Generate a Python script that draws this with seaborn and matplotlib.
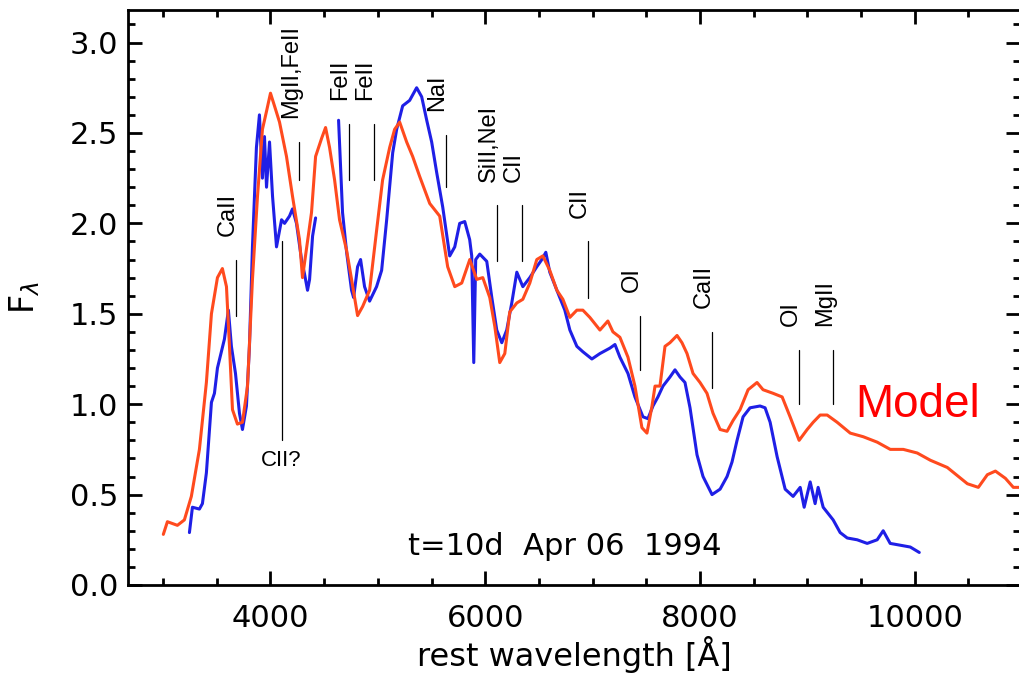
import matplotlib
matplotlib.use("Agg")
import matplotlib.pyplot as plt
import seaborn as sns
import pandas as pd
from matplotlib.ticker import MultipleLocator, FormatStrFormatter

# model spectrum (red/orange)
model_wl = [3002, 3040, 3133, 3198, 3263, 3338, 3403, 3450, 3506, 3552,
            3590, 3618, 3646, 3692, 3739, 3786, 3832, 3879, 3925, 3963,
            4000, 4037, 4084, 4149, 4205, 4270, 4298, 4382, 4420, 4476,
            4513, 4550, 4597, 4643, 4709, 4755, 4811, 4858, 4923, 4988,
            5044, 5110, 5156, 5203, 5268, 5324, 5389, 5483, 5576, 5650,
            5716, 5781, 5856, 5921, 5977, 6042, 6089, 6135, 6182, 6228,
            6294, 6350, 6415, 6480, 6536, 6601, 6667, 6723, 6788, 6853,
            6909, 6974, 7068, 7142, 7189, 7254, 7329, 7394, 7459, 7506,
            7553, 7581, 7627, 7674, 7720, 7786, 7832, 7879, 7935, 8000,
            8065, 8121, 8187, 8252, 8308, 8373, 8448, 8531, 8587, 8681,
            8765, 8839, 8923, 8998, 9054, 9119, 9184, 9277, 9399, 9520,
            9650, 9772, 9893, 10023, 10145, 10303, 10490, 10592, 10676, 10751,
            10844, 10918, 10975]
model_flux = [0.28, 0.35, 0.33, 0.36, 0.49, 0.75, 1.12, 1.50, 1.70, 1.75,
              1.65, 1.32, 0.97, 0.89, 0.90, 1.10, 1.69, 2.15, 2.52, 2.62,
              2.72, 2.65, 2.56, 2.37, 2.15, 1.91, 1.70, 2.06, 2.37, 2.47,
              2.53, 2.42, 2.24, 2.02, 1.85, 1.69, 1.49, 1.54, 1.63, 1.96,
              2.24, 2.42, 2.52, 2.56, 2.45, 2.37, 2.26, 2.11, 2.04, 1.76,
              1.65, 1.67, 1.80, 1.69, 1.70, 1.59, 1.43, 1.23, 1.28, 1.51,
              1.56, 1.58, 1.67, 1.80, 1.82, 1.74, 1.63, 1.58, 1.48, 1.52,
              1.52, 1.48, 1.41, 1.46, 1.40, 1.37, 1.26, 1.10, 0.87, 0.84,
              0.99, 1.10, 1.10, 1.32, 1.34, 1.38, 1.34, 1.28, 1.17, 1.12,
              1.06, 0.95, 0.86, 0.85, 0.91, 0.97, 1.08, 1.12, 1.08, 1.06,
              1.04, 0.93, 0.80, 0.86, 0.90, 0.94, 0.94, 0.90, 0.84, 0.82,
              0.79, 0.75, 0.75, 0.73, 0.69, 0.65, 0.56, 0.54, 0.61, 0.63,
              0.59, 0.54, 0.54]

# observed spectrum (blue), two pieces with a gap near 4500 A
obs_wl_a = [3245, 3273, 3338, 3366, 3403, 3450, 3478, 3506, 3571, 3608,
            3636, 3674, 3711, 3739, 3776, 3804, 3832, 3869, 3897, 3925,
            3944, 3963, 3991, 4019, 4056, 4103, 4131, 4177, 4205, 4242,
            4289, 4317, 4345, 4364, 4392, 4420]
obs_flux_a = [0.29, 0.43, 0.42, 0.45, 0.62, 1.01, 1.06, 1.20, 1.36, 1.52,
              1.32, 1.17, 0.95, 0.86, 0.99, 1.32, 1.87, 2.42, 2.60, 2.25,
              2.48, 2.20, 2.45, 2.15, 1.87, 2.02, 2.00, 2.04, 2.08, 2.00,
              1.80, 1.72, 1.63, 1.69, 1.93, 2.03]
obs_wl_b = [4634, 4671, 4709, 4755, 4774, 4811, 4839, 4876, 4923, 4988,
            5035, 5082, 5138, 5175, 5231, 5296, 5361, 5408, 5455, 5501,
            5548, 5604, 5669, 5716, 5762, 5809, 5855, 5874, 5893, 5911,
            5949, 6014, 6061, 6107, 6154, 6200, 6247, 6294, 6350, 6415,
            6480, 6527, 6564, 6601, 6667, 6741, 6788, 6853, 6909, 6993,
            7068, 7161, 7208, 7254, 7329, 7394, 7469, 7515, 7562, 7608,
            7655, 7720, 7767, 7814, 7860, 7907, 7972, 8028, 8112, 8187,
            8252, 8298, 8345, 8401, 8466, 8559, 8606, 8653, 8718, 8793,
            8867, 8933, 8970, 9026, 9072, 9100, 9147, 9240, 9305, 9371,
            9464, 9557, 9650, 9706, 9771, 9865, 9958, 10042]
obs_flux_b = [2.57, 2.06, 1.84, 1.63, 1.59, 1.76, 1.80, 1.65, 1.57, 1.65,
              1.74, 2.02, 2.39, 2.52, 2.65, 2.68, 2.75, 2.70, 2.57, 2.45,
              2.28, 2.09, 1.82, 1.87, 2.00, 2.01, 1.91, 1.82, 1.23, 1.80,
              1.83, 1.79, 1.59, 1.41, 1.34, 1.41, 1.56, 1.73, 1.65, 1.70,
              1.76, 1.80, 1.84, 1.73, 1.63, 1.52, 1.41, 1.32, 1.29, 1.25,
              1.28, 1.31, 1.33, 1.26, 1.17, 1.04, 0.93, 0.92, 0.99, 1.04,
              1.10, 1.15, 1.19, 1.15, 1.12, 0.98, 0.72, 0.60, 0.50, 0.53,
              0.60, 0.68, 0.80, 0.93, 0.98, 0.99, 0.98, 0.90, 0.71, 0.53,
              0.49, 0.54, 0.43, 0.57, 0.45, 0.54, 0.43, 0.36, 0.29, 0.26,
              0.25, 0.23, 0.25, 0.30, 0.23, 0.22, 0.21, 0.18]

# line identifications
line_labels = ["CaII", "CII?", "MgII,FeII", "FeII", "FeII", "NaI", "SiII,NeI",
               "CII", "CII", "OI", "CaII", "OI", "MgII"]
line_wl = [3683, 4103, 4270, 4727, 4960, 5632, 6107, 6340, 6956, 7441, 8112, 8923, 9240]
line_lo = [1.49, 0.80, 2.24, 2.24, 2.24, 2.20, 1.79, 1.79, 1.59, 1.19, 1.09, 1.00, 1.00]
line_hi = [1.80, 1.90, 2.45, 2.55, 2.55, 2.49, 2.10, 2.10, 1.90, 1.49, 1.40, 1.30, 1.30]
label_below = [False, True, False, False, False, False, False,
               False, False, False, False, False, False]

sns.set_style("ticks")
plt.rcParams["font.family"] = ["DejaVu Sans"]
plt.rcParams["text.color"] = "black"
plt.rcParams["axes.labelcolor"] = "black"
plt.rcParams["xtick.color"] = "black"
plt.rcParams["ytick.color"] = "black"

fig = plt.figure(figsize=(10.19, 6.86), dpi=100)
ax = fig.add_axes([128 / 1019, 101 / 686, 892 / 1019, 575 / 686])

obs_a = pd.DataFrame({"wl": obs_wl_a, "flux": obs_flux_a})
obs_b = pd.DataFrame({"wl": obs_wl_b, "flux": obs_flux_b})
model = pd.DataFrame({"wl": model_wl, "flux": model_flux})

blue = "#1f1fe6"
red = "#ff4a1e"
sns.lineplot(data=obs_a, x="wl", y="flux", color=blue, linewidth=2.2, ax=ax, legend=False)
sns.lineplot(data=obs_b, x="wl", y="flux", color=blue, linewidth=2.2, ax=ax, legend=False)
sns.lineplot(data=model, x="wl", y="flux", color=red, linewidth=2.2, ax=ax, legend=False)

ax.set_xlim(2673, 10980)
ax.set_ylim(0, 3.18)

for lab, wl, lo, hi, below in zip(line_labels, line_wl, line_lo, line_hi, label_below):
    ax.plot([wl, wl], [lo, hi], color="black", linewidth=0.9)
    if below:
        ax.annotate(lab, xy=(wl, lo), xytext=(0, -7), textcoords="offset points",
                    ha="center", va="top", fontsize=16, family="Liberation Sans")
    else:
        ax.annotate(lab, xy=(wl, hi), xytext=(-6, 17), textcoords="offset points",
                    rotation=90, ha="center", va="bottom", fontsize=17,
                    family="Liberation Sans")

ax.text(5277, 0.166, "t=10d  Apr 06  1994", fontsize=22, va="baseline", ha="left")
ax.text(9445, 0.93, "Model", color="red", fontsize=33, va="baseline", ha="left",
        family="Liberation Sans")

ax.xaxis.set_major_locator(MultipleLocator(2000))
ax.xaxis.set_minor_locator(MultipleLocator(500))
ax.yaxis.set_major_locator(MultipleLocator(0.5))
ax.yaxis.set_minor_locator(MultipleLocator(0.1))
ax.yaxis.set_major_formatter(FormatStrFormatter("%.1f"))

ax.tick_params(which="both", direction="in", top=True, right=True, width=2, colors="black")
ax.tick_params(which="major", length=10, labelsize=22)
ax.tick_params(which="minor", length=5)
ax.tick_params(axis="x", which="major", pad=14)
ax.tick_params(axis="y", which="major", pad=7)
for s in ax.spines.values():
    s.set_linewidth(2)
    s.set_color("black")

ax.set_xlabel("rest wavelength [Å]", fontsize=23, labelpad=2)
ax.set_ylabel(r"F$_\lambda$", fontsize=24, labelpad=20, rotation=90)

fig.savefig("out.png", dpi=100)
